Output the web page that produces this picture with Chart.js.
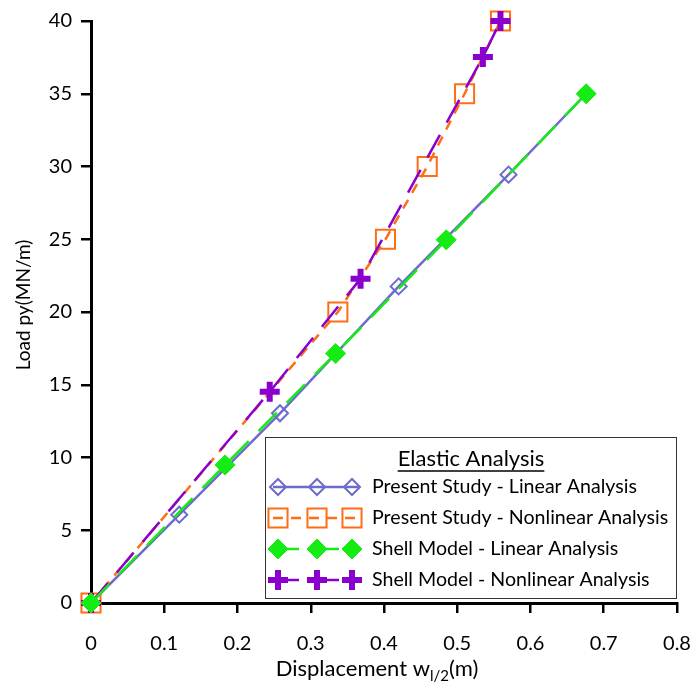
<!DOCTYPE html>
<html>
<head>
<meta charset="utf-8">
<script src="https://cdn.jsdelivr.net/npm/chart.js@4.4.1/dist/chart.umd.min.js"></script>
<style>
  body { margin: 0; background: #fff; }
  canvas { display: block; }
</style>
</head>
<body>
<canvas id="loadChart" width="694" height="683"></canvas>
<script>
// values (displacement in m, load in MN/m)
const presentLinX = [0, 0.1205, 0.258, 0.420, 0.570, 0.676];
const presentLinY = [0, 6.07, 13.04, 21.76, 29.44, 35.0];

const presentNonX = [0, 0.337, 0.402, 0.459, 0.510, 0.559];
const presentNonY = [0, 20.0, 25.0, 30.0, 35.0, 40.0];

const shellLinX = [0, 0.183, 0.334, 0.485, 0.676];
const shellLinY = [0, 9.49, 17.15, 24.96, 35.0];

const shellNonX = [0, 0.244, 0.368, 0.535, 0.559];
const shellNonY = [0, 14.52, 22.29, 37.52, 40.0];

const seriesNames = [
    "Present Study - Linear Analysis",
    "Present Study - Nonlinear Analysis",
    "Shell Model - Linear Analysis",
    "Shell Model - Nonlinear Analysis"
];
const legendTitle = "Elastic Analysis";

const xTickLabels = ["0", "0.1", "0.2", "0.3", "0.4", "0.5", "0.6", "0.7", "0.8"];
const yTickLabels = ["0", "5", "10", "15", "20", "25", "30", "35", "40"];

const FONT = "Lato";
const TEXT_SIZE = 20;

// turn two arrays into {x, y} points
const toPoints = (xs, ys) => xs.map((x, i) => ({ x: x, y: ys[i] }));

const datasets = [
    {
        label: seriesNames[0],
        data: toPoints(presentLinX, presentLinY),
        borderColor: "#6c6ccc",
        backgroundColor: "rgba(0,0,0,0)",
        borderWidth: 2.5,
        pointStyle: "rectRot",
        pointRadius: 8,
        pointBorderWidth: 2,
        clip: false,
        order: 4
    },
    {
        label: seriesNames[1],
        data: toPoints(presentNonX, presentNonY),
        borderColor: "#ff6d14",
        backgroundColor: "rgba(0,0,0,0)",
        borderWidth: 2.5,
        borderDash: [10, 8],
        pointStyle: "rect",
        pointRadius: 13.5,
        pointBorderWidth: 2,
        clip: false,
        order: 3
    },
    {
        label: seriesNames[2],
        data: toPoints(shellLinX, shellLinY),
        borderColor: "#14ec14",
        backgroundColor: "#14ec14",
        borderWidth: 2.5,
        borderDash: [26, 14],
        pointStyle: "rectRot",
        pointRadius: 10,
        pointBorderWidth: 1,
        clip: false,
        order: 1
    },
    {
        label: seriesNames[3],
        data: toPoints(shellNonX, shellNonY),
        borderColor: "#8a00cc",
        backgroundColor: "#8a00cc",
        borderWidth: 2.5,
        borderDash: [26, 14],
        pointStyle: "cross",
        pointRadius: 10,
        pointBorderWidth: 6,
        clip: false,
        order: 2
    }
];

// axis titles (with subscript) and the boxed legend are drawn by hand
const extrasPlugin = {
    id: "extras",
    afterDraw(chart) {
        const ctx = chart.ctx;
        const area = chart.chartArea;
        ctx.save();
        ctx.fillStyle = "#000";
        ctx.textBaseline = "middle";

        // x axis title: Displacement w_{l/2}(m)
        const mainFont = TEXT_SIZE + "px " + FONT;
        const xTitleFont = "22px " + FONT;
        const subFont = "15px " + FONT;
        ctx.font = xTitleFont;
        const p1 = "Displacement w", p3 = "(m)";
        const w1 = ctx.measureText(p1).width;
        const w3 = ctx.measureText(p3).width;
        ctx.font = subFont;
        const p2 = "l/2";
        const w2 = ctx.measureText(p2).width;
        let tx = 377 - (w1 + w2 + w3) / 2;
        const ty = 669;
        ctx.textAlign = "left";
        ctx.font = xTitleFont;
        ctx.fillText(p1, tx, ty);
        ctx.font = subFont;
        ctx.fillText(p2, tx + w1, ty + 7);
        ctx.font = xTitleFont;
        ctx.fillText(p3, tx + w1 + w2, ty);

        // y axis title
        ctx.save();
        ctx.translate(24, 305);
        ctx.rotate(-Math.PI / 2);
        ctx.textAlign = "center";
        ctx.font = "19px " + FONT;
        ctx.fillText("Load py(MN/m)", 0, 0);
        ctx.restore();

        // legend box
        const boxL = 265, boxT = 437, boxR = area.right, boxB = 599;
        ctx.fillStyle = "#fff";
        ctx.fillRect(boxL, boxT, boxR - boxL, boxB - boxT);
        ctx.strokeStyle = "#333";
        ctx.lineWidth = 1;
        ctx.strokeRect(boxL + 0.5, boxT + 0.5, boxR - boxL - 1, boxB - boxT - 1);

        // legend title, underlined
        ctx.fillStyle = "#000";
        ctx.font = "22px " + FONT;
        ctx.textAlign = "center";
        const titleX = 471, titleY = 459;
        ctx.fillText(legendTitle, titleX, titleY);
        const tw = ctx.measureText(legendTitle).width;
        ctx.beginPath();
        ctx.moveTo(titleX - tw / 2, titleY + 12);
        ctx.lineTo(titleX + tw / 2, titleY + 12);
        ctx.lineWidth = 1.3;
        ctx.strokeStyle = "#000";
        ctx.stroke();

        // legend rows
        const rowY = [487, 518, 549, 580];
        const markX = [278, 317, 352];
        datasets.forEach((ds, i) => {
            const y = rowY[i];
            ctx.save();
            ctx.strokeStyle = ds.borderColor;
            ctx.lineWidth = ds.borderWidth;
            ctx.setLineDash(ds.borderDash || []);
            ctx.beginPath();
            ctx.moveTo(273, y);
            ctx.lineTo(360, y);
            ctx.stroke();
            ctx.setLineDash([]);
            ctx.fillStyle = ds.backgroundColor;
            ctx.lineWidth = ds.pointBorderWidth;
            markX.forEach((mx) => {
                Chart.helpers.drawPoint(ctx, {
                    pointStyle: ds.pointStyle,
                    radius: ds.pointRadius,
                    borderWidth: ds.pointBorderWidth,
                    rotation: 0
                }, mx, y);
            });
            ctx.restore();

            ctx.fillStyle = "#000";
            ctx.font = "19.6px " + FONT;
            ctx.textAlign = "left";
            ctx.fillText(ds.label, 372, y);
        });
        ctx.restore();
    }
};

Chart.defaults.font.family = FONT;
Chart.defaults.font.size = TEXT_SIZE;
Chart.defaults.color = "#000";

new Chart(document.getElementById("loadChart"), {
    type: "line",
    data: { datasets: datasets },
    options: {
        responsive: false,
        animation: false,
        layout: { padding: { top: 20, right: 17, left: 0, bottom: 0 } },
        plugins: {
            legend: { display: false },
            tooltip: { enabled: false }
        },
        scales: {
            x: {
                type: "linear",
                min: 0,
                max: 0.8,
                ticks: {
                    stepSize: 0.1,
                    padding: 19,
                    maxRotation: 0,
                    callback: (v, i) => xTickLabels[i]
                },
                grid: {
                    drawOnChartArea: false,
                    tickLength: 10,
                    color: "#000",
                    lineWidth: 2.5
                },
                border: { color: "#000", width: 3 },
                afterFit: (scale) => {
                    scale.height = 80;
                    scale.paddingLeft = 0;
                    scale.paddingRight = 0;
                }
            },
            y: {
                type: "linear",
                min: 0,
                max: 40,
                ticks: {
                    stepSize: 5,
                    padding: 9,
                    callback: (v, i) => yTickLabels[i]
                },
                grid: {
                    drawOnChartArea: false,
                    tickLength: 10,
                    color: "#000",
                    lineWidth: 2.5
                },
                border: { color: "#000", width: 3 },
                afterFit: (scale) => { scale.width = 91; }
            }
        }
    },
    plugins: [extrasPlugin]
});
</script>
</body>
</html>
